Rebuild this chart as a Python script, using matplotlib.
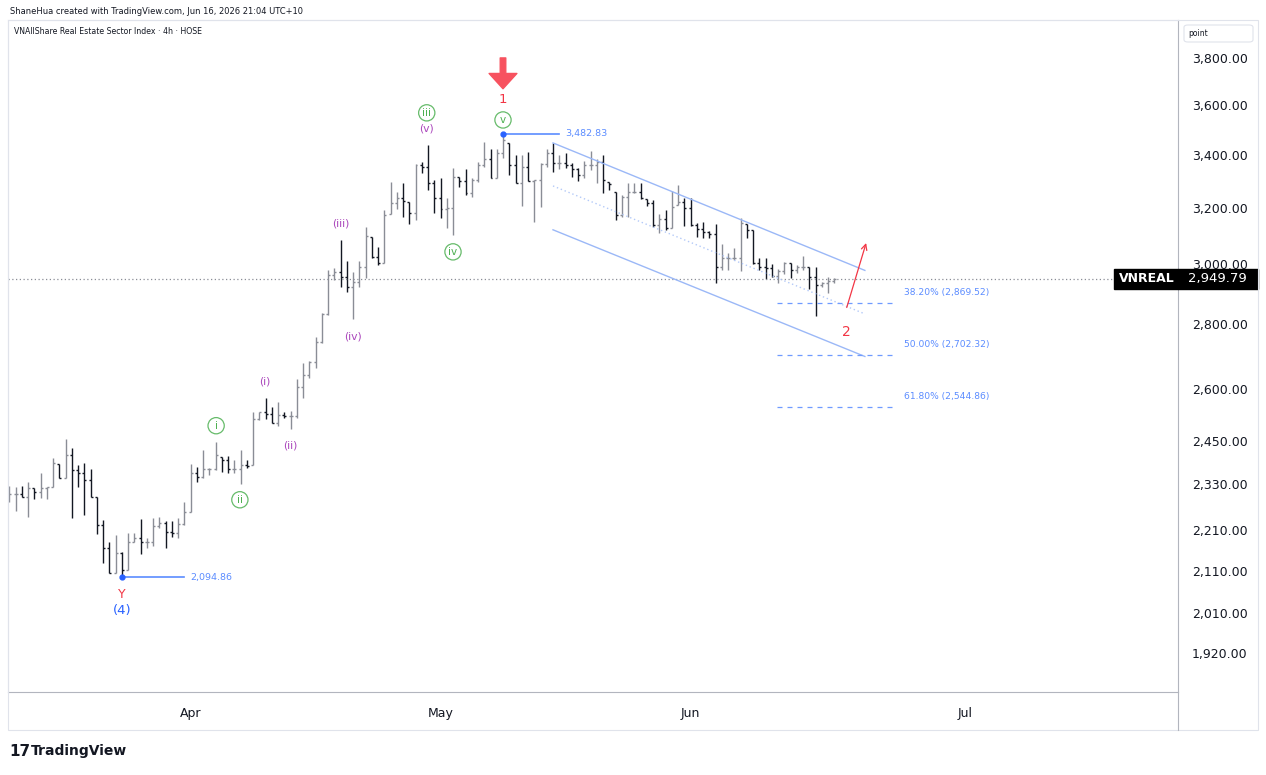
import numpy as np
import matplotlib
matplotlib.use("Agg")
import matplotlib.pyplot as plt
from matplotlib.patches import Rectangle, FancyBboxPatch
from matplotlib.ticker import FixedLocator, FuncFormatter, NullLocator

# 4h OHLC bars, VNREAL
opens = [2300, 2304, 2304, 2297, 2320, 2310, 2320, 2323, 2386, 2347,
         2410, 2369, 2361, 2342, 2297, 2224, 2166, 2105, 2154, 2112,
         2180, 2192, 2180, 2180, 2221, 2229, 2206, 2204, 2226, 2257,
         2361, 2350, 2372, 2372, 2405, 2397, 2372, 2372, 2383, 2383,
         2512, 2531, 2525, 2500, 2523, 2520, 2520, 2605, 2641, 2682,
         2743, 2833, 2963, 2973, 2956, 2922, 2939, 2990, 3095, 3024,
         3004, 3177, 3218, 3236, 3221, 3181, 3361, 3353, 3292, 3236,
         3196, 3200, 3315, 3300, 3255, 3304, 3361, 3384, 3311, 3407,
         3447, 3361, 3292, 3353, 3300, 3304, 3365, 3407, 3369, 3369,
         3361, 3345, 3323, 3361, 3361, 3372, 3296, 3258, 3174, 3240,
         3258, 3258, 3232, 3218, 3138, 3160, 3127, 3210, 3221, 3200,
         3138, 3123, 3113, 3106, 2990, 3021, 3021, 3021, 3141, 3120,
         3004, 2990, 2987, 2960, 2977, 3004, 2980, 2990, 2990, 2956,
         2929, 2936, 2943]
highs = [2326, 2323, 2326, 2337, 2320, 2361, 2323, 2402, 2386, 2455,
         2430, 2383, 2388, 2372, 2297, 2237, 2182, 2199, 2156, 2204,
         2204, 2239, 2192, 2242, 2245, 2234, 2234, 2242, 2284, 2386,
         2377, 2424, 2375, 2446, 2405, 2408, 2397, 2424, 2397, 2531,
         2531, 2573, 2546, 2561, 2531, 2534, 2630, 2678, 2684, 2759,
         2836, 2980, 2987, 3084, 3011, 2973, 3011, 3131, 3095, 3060,
         3192, 3296, 3258, 3292, 3221, 3365, 3372, 3439, 3304, 3311,
         3236, 3349, 3315, 3345, 3311, 3372, 3451, 3423, 3423, 3482.83,
         3447, 3400, 3400, 3411, 3304, 3369, 3423, 3447, 3400, 3407,
         3369, 3349, 3376, 3415, 3384, 3400, 3296, 3258, 3247, 3292,
         3292, 3292, 3232, 3229, 3178, 3192, 3262, 3285, 3236, 3236,
         3145, 3149, 3116, 3141, 3070, 3038, 3056, 3163, 3141, 3120,
         3021, 3021, 3000, 2983, 3007, 3004, 2997, 3028, 2990, 2990,
         2939, 2956, 2953]
lows = [2284, 2260, 2297, 2245, 2291, 2294, 2291, 2323, 2347, 2347,
        2242, 2323, 2250, 2297, 2201, 2130, 2105, 2105, 2094.86, 2112,
        2180, 2151, 2166, 2171, 2216, 2166, 2194, 2192, 2224, 2257,
        2337, 2347, 2355, 2369, 2364, 2361, 2361, 2331, 2375, 2383,
        2509, 2512, 2500, 2492, 2514, 2483, 2514, 2573, 2633, 2662,
        2740, 2830, 2946, 2922, 2905, 2817, 2922, 2953, 3021, 2997,
        3004, 3177, 3196, 3167, 3141, 3156, 3331, 3266, 3181, 3163,
        3127, 3102, 3277, 3247, 3240, 3296, 3353, 3311, 3311, 3388,
        3323, 3292, 3207, 3300, 3149, 3203, 3353, 3334, 3345, 3349,
        3315, 3300, 3311, 3342, 3292, 3255, 3266, 3156, 3167, 3167,
        3255, 3232, 3207, 3131, 3109, 3120, 3127, 3210, 3134, 3134,
        3095, 3091, 3091, 2936, 2980, 2980, 3014, 2977, 3091, 3000,
        2980, 2950, 2956, 2936, 2966, 2953, 2970, 2980, 2915, 2827,
        2922, 2902, 2936]
closes = [2304, 2304, 2297, 2320, 2310, 2320, 2323, 2388, 2347, 2410,
          2369, 2361, 2342, 2297, 2224, 2166, 2105, 2154, 2112, 2180,
          2192, 2180, 2180, 2221, 2229, 2206, 2204, 2226, 2257, 2361,
          2350, 2372, 2372, 2410, 2397, 2372, 2372, 2383, 2380, 2512,
          2531, 2525, 2500, 2523, 2520, 2520, 2605, 2641, 2682, 2743,
          2833, 2963, 2973, 2956, 2922, 2939, 2990, 3098, 3024, 3004,
          3174, 3218, 3236, 3225, 3181, 3361, 3353, 3292, 3236, 3196,
          3200, 3315, 3300, 3255, 3304, 3361, 3384, 3311, 3407, 3459,
          3361, 3292, 3353, 3300, 3304, 3365, 3407, 3369, 3369, 3361,
          3345, 3323, 3361, 3361, 3372, 3304, 3288, 3174, 3240, 3258,
          3258, 3236, 3218, 3138, 3160, 3127, 3203, 3221, 3200, 3138,
          3123, 3113, 3106, 2990, 3021, 3021, 3021, 3145, 3120, 3004,
          2990, 2987, 2960, 2977, 3004, 2980, 2990, 2990, 2956, 2929,
          2936, 2943, 2949.79]

month_labels = ["Apr", "May", "Jun", "Jul"]
month_bars = [29, 69, 109, 153]
price_ticks = [1920, 2010, 2110, 2210, 2330, 2450, 2600, 2800, 3000, 3200, 3400, 3600, 3800]
last_price = 2949.79

swing_low = (18, 2094.86)
swing_high = (79, 3482.83)

# (bar, price, text)
green_labels = [(33.1, 2492, "i"), (36.9, 2289, "ii"), (66.8, 3568, "iii"),
                (71.0, 3042, "iv"), (79.0, 3539, "v")]
purple_labels = [(40.9, 2621, "(i)"), (44.9, 2435, "(ii)"), (53.1, 3141, "(iii)"),
                 (55.0, 2762, "(iv)"), (66.8, 3503, "(v)")]

# descending channel (bar, price) pairs
chan_upper = ([87, 136.9], [3447, 2978])
chan_mid = ([87, 136.9], [3281, 2833])
chan_lower = ([87, 136.9], [3120, 2698])

fib_levels = [2869.52, 2702.32, 2544.86]
fib_texts = ["38.20% (2,869.52)", "50.00% (2,702.32)", "61.80% (2,544.86)"]
fib_span = (122.8, 141.4)

proj_start = (134.0, 2854)
proj_end = (137.1, 3073)

W, H = 1266, 775
BLUE = "#2962ff"
BLUE_LT = "#5b8cff"
RED = "#f23645"
GREEN = "#4caf50"
PURPLE = "#ab47bc"
DARK = "#131722"

fig = plt.figure(figsize=(W / 100, H / 100), dpi=100)
fig.patch.set_facecolor("white")
ax = fig.add_axes([8 / W, 1 - 692 / H, 1170 / W, 672 / H])

x = np.arange(len(closes))
o = np.array(opens)
c = np.array(closes)
up = c >= o
cols = np.where(up, "#8a8d96", DARK)
ax.vlines(x, lows, highs, colors=cols, lw=1.0)
ax.hlines(o, x - 0.32, x, colors=cols, lw=1.0)
ax.hlines(c, x, x + 0.32, colors=cols, lw=1.0)

ax.set_yscale("log")
ax.set_ylim(1836, 3969)
ax.set_xlim(-0.2, 187.0)

# last price line
ax.axhline(last_price, color="#8a8d96", lw=0.9, ls=(0, (1, 2)))

# swing labels
for (b, p), end, txt in [(swing_low, 28, "2,094.86"), (swing_high, 88, "3,482.83")]:
    ax.plot([b, end], [p, p], color=BLUE_LT, lw=1.2)
    ax.plot(b, p, "o", color=BLUE, ms=3.5)
    ax.text(end + 0.9, p, txt, color=BLUE_LT, fontsize=6.8, va="center", ha="left")

ax.text(18, 2053, "Y", color=RED, fontsize=9, ha="center", va="center")
ax.text(18, 2016, "(4)", color=BLUE, fontsize=9.5, ha="center", va="center")

for b, p, t in green_labels:
    ax.text(b, p, t, color=GREEN, fontsize=7.5, ha="center", va="center",
            bbox=dict(boxstyle="circle,pad=0.3", fc="white", ec="#66bb6a", lw=0.9))
for b, p, t in purple_labels:
    ax.text(b, p, t, color=PURPLE, fontsize=7.8, ha="center", va="center")

ax.text(79, 3621, "1", color=RED, fontsize=9.5, ha="center", va="center")
ax.annotate("", xy=(79, 3668), xytext=(79, 3800),
            arrowprops=dict(facecolor="#f7525f", edgecolor="#f7525f", width=4,
                            headwidth=20, headlength=11))
ax.text(134.0, 2775, "2", color=RED, fontsize=10, ha="center", va="center")

# channel
ax.plot(*chan_upper, color="#9bb8f7", lw=1.0)
ax.plot(*chan_lower, color="#9bb8f7", lw=1.0)
ax.plot(*chan_mid, color="#b3c9f8", lw=1.0, ls=(0, (1, 2)))

# fib retracement levels
for lvl, t in zip(fib_levels, fib_texts):
    ax.plot(fib_span, [lvl, lvl], color="#6f9bff", lw=0.9, ls=(0, (4, 4)))
    ax.text(143.2, lvl * 1.007, t, color=BLUE_LT, fontsize=6.6, ha="left", va="bottom")

ax.annotate("", xy=proj_end, xytext=proj_start,
            arrowprops=dict(arrowstyle="->", color=RED, lw=0.9, shrinkA=0, shrinkB=0))

# axes styling
ax.yaxis.set_major_locator(FixedLocator(price_ticks))
ax.yaxis.set_minor_locator(NullLocator())
ax.yaxis.set_major_formatter(FuncFormatter(lambda v, _: f"{v:,.2f}"))
ax.yaxis.tick_right()
ax.tick_params(axis="y", length=0, pad=10, labelsize=9, labelcolor=DARK)
ax.set_xticks(month_bars)
ax.set_xticklabels(month_labels)
ax.tick_params(axis="x", length=0, pad=11, labelsize=9, labelcolor=DARK)
for s in ["top", "left"]:
    ax.spines[s].set_color("#e0e3eb")
for s in ["bottom", "right"]:
    ax.spines[s].set_color("#b2b5be")

# current price tags
ytf = ax.get_yaxis_transform()
hi, lo = last_price * 1.0115, last_price / 1.0115
ax.add_patch(Rectangle((0.9453, lo), 0.0547, hi - lo, transform=ytf, color="black", clip_on=False, zorder=5))
ax.add_patch(Rectangle((1.0, lo), 0.0684, hi - lo, transform=ytf, color="black", clip_on=False, zorder=5))
ax.text(0.9973, last_price, "VNREAL", transform=ytf, color="white", fontsize=9, fontweight="bold",
        ha="right", va="center", zorder=6)
ax.text(1.0085, last_price, f"{last_price:,.2f}", transform=ytf, color="white", fontsize=9.5,
        ha="left", va="center", zorder=6)

# chrome
fig.add_artist(Rectangle((8 / W, 1 - 730 / H), 1250 / W, 710 / H, transform=fig.transFigure,
                         fill=False, ec="#e0e3eb", lw=0.8))
fig.add_artist(plt.Line2D([1178 / W, 1178 / W], [1 - 730 / H, 1 - 692 / H], color="#b2b5be", lw=0.8))
fig.add_artist(FancyBboxPatch((1184 / W, 1 - 42 / H), 69 / W, 17 / H, transform=fig.transFigure,
                              boxstyle="round,pad=0,rounding_size=0.003", fill=False, ec="#e0e3eb", lw=0.8))
fig.text(1188 / W, 1 - 34 / H, "point", fontsize=5.5, color=DARK, va="center")
fig.text(10 / W, 1 - 11 / H, "ShaneHua created with TradingView.com, Jun 16, 2026 21:04 UTC+10",
         fontsize=6, color=DARK, va="center")
fig.text(14 / W, 1 - 32 / H, "VNAllShare Real Estate Sector Index \u00b7 4h \u00b7 HOSE",
         fontsize=5.6, color=DARK, va="center")
fig.text(9 / W, 1 - 751 / H, "17", fontsize=11, fontweight="heavy", color=DARK, va="center")
fig.text(31 / W, 1 - 751 / H, "TradingView", fontsize=10, fontweight="bold", color=DARK, va="center")

fig.savefig("out.png", dpi=100)
